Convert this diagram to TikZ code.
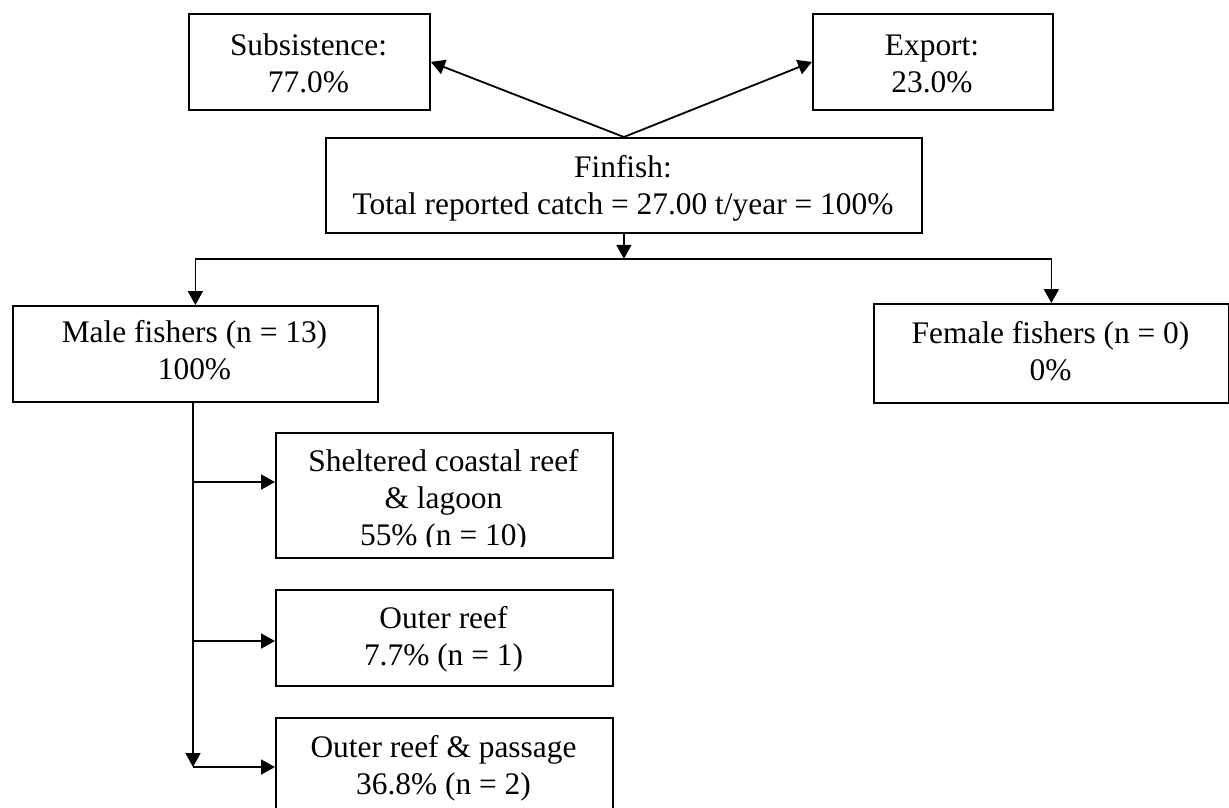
\documentclass[tikz,border=0pt]{standalone}
\usepackage{fontspec}
\setmainfont{Liberation Serif}
\usetikzlibrary{arrows.meta,calc}
\newcommand\lnst{\rule{0pt}{24pt}}
\begin{document}
\begin{tikzpicture}[x=1pt,y=-1pt,
  boxst/.style={draw, line width=1.8pt, inner sep=0pt, anchor=north west},
  txt/.style={font=\fontsize{31.4}{37}\selectfont, align=center, inner sep=0pt, anchor=north},
  arr/.style={line width=1.8pt, -{Triangle[length=14pt,width=15pt]}},
]
\clip (0,0) rectangle (1229,807);
% boxes
\node[boxst, minimum width=241, minimum height=96] (sub) at (188,13) {};
\node[boxst, minimum width=240, minimum height=96] (exp) at (812,13) {};
\node[boxst, minimum width=596, minimum height=95] (fin) at (325,137) {};
\node[boxst, minimum width=365, minimum height=96] (male) at (12,305) {};
\node[boxst, minimum width=355, minimum height=99] (fem) at (873,303) {};
\node[boxst, minimum width=337, minimum height=125] (sh) at (275,432) {};
\node[boxst, minimum width=337, minimum height=96] (or) at (275,589) {};
\node[boxst, minimum width=337, minimum height=96] (pa) at (275,717) {};
% texts
\node[txt] (subt) at (308.5,31) {\lnst Subsistence:\\\lnst 77.0\%};
\node[txt] (expt) at (932,31) {\lnst Export:\\\lnst 23.0\%};
\node[txt] (fint) at (623,153) {\lnst Finfish:\\\lnst Total reported catch = 27.00 t/year = 100\%};
\node[txt] (malet) at (194.5,318) {\lnst Male fishers (n = 13)\\\lnst 100\%};
\node[txt] (femt) at (1050.5,319) {\lnst Female fishers (n = 0)\\\lnst 0\%};
\begin{scope}
\clip (277,434) rectangle (610,546);
\node[txt] (sht) at (443.5,447) {\lnst Sheltered coastal reef\\\lnst \& lagoon\\\lnst 55\% (n = 10)};
\end{scope}
\node[txt] (ort) at (443.5,604) {\lnst Outer reef\\\lnst 7.7\% (n = 1)};
\node[txt] (pat) at (443.5,733) {\lnst Outer reef \& passage\\\lnst 36.8\% (n = 2)};
% connectors
\draw[arr] (fin.north) -- (sub.east);
\draw[arr] (fin.north) -- (exp.west);
\coordinate (split) at ($(fin.south)+(0,25)$);
\draw[arr] (fin.south) -- (split);
\draw[arr] (split) -| (male.north);
\draw[arr] (split) -| (fem.north);
\coordinate (t1) at (193,482);
\coordinate (t2) at (193,641);
\coordinate (t3) at (193,767);
\draw[arr] (male.south -| t3) -- (t3);
\draw[arr] (t1) -- (t1 -| sh.west);
\draw[arr] (t2) -- (t2 -| or.west);
\draw[arr] (t3) -- (t3 -| pa.west);
\end{tikzpicture}
\end{document}
